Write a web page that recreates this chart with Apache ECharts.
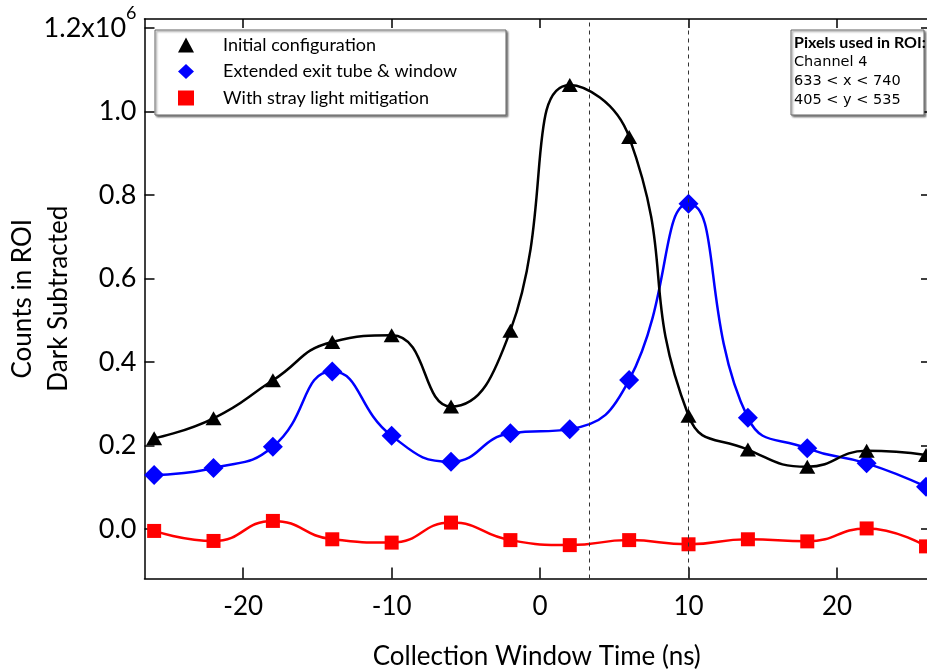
<!DOCTYPE html>
<html>
<head>
<meta charset="utf-8">
<script src="https://cdn.jsdelivr.net/npm/echarts@6/dist/echarts.min.js"></script>
<style>html,body{margin:0;padding:0;background:#fff;}#chart{width:927px;height:670px;}</style>
</head>
<body>
<div id="chart"></div>
<script>
const times = [-26, -22, -18, -14, -10, -6, -2, 2, 6, 10, 14, 18, 22, 26];
const initialCfg = [0.217, 0.265, 0.356, 0.448, 0.464, 0.293, 0.475, 1.064, 0.939, 0.271, 0.190, 0.149, 0.187, 0.177];
const extendedTube = [0.129, 0.146, 0.197, 0.377, 0.223, 0.161, 0.229, 0.239, 0.357, 0.779, 0.266, 0.193, 0.157, 0.101];
const strayMitigation = [-0.005, -0.029, 0.019, -0.025, -0.033, 0.015, -0.027, -0.039, -0.027, -0.037, -0.025, -0.030, 0.001, -0.042];
const seriesNames = ['Initial configuration', 'Extended exit tube & window', 'With stray light mitigation'];
const xTicks = [-20, -10, 0, 10, 20];
const yTicks = [0, 0.2, 0.4, 0.6, 0.8, 1.0, 1.2];
const markerTimes = [3.33, 10];
const roiLines = ['Pixels used in ROI:', 'Channel 4', '633 < x < 740', '405 < y < 535'];

const FONT = 'Lato';
const pair = (ys) => times.map((t, i) => [t, ys[i]]);

const chart = echarts.init(document.getElementById('chart'), null, {renderer: 'canvas'});

const xMin = -26.65, xMax = 26.2, yMin = -0.119, yMax = 1.222;

const tickCommon = {show: true, inside: true, length: 10, lineStyle: {color: '#000', width: 1.5}};
const lineCommon = {show: true, onZero: false, lineStyle: {color: '#000', width: 1.5}};

const option = {
  backgroundColor: '#fff',
  animation: false,
  grid: {left: 144.5, top: 19, right: -2, bottom: 91.5, containLabel: false, outerBoundsMode: 'none'},
  xAxis: [{
    type: 'value', min: xMin, max: xMax, position: 'bottom',
    name: 'Collection Window Time (ns)', nameLocation: 'middle', nameGap: 65, nameMoveOverlap: false,
    nameTextStyle: {fontFamily: FONT, fontSize: 26, color: '#000'},
    axisLine: lineCommon,
    axisTick: Object.assign({}, tickCommon, {customValues: xTicks, length: 11}),
    axisLabel: {customValues: xTicks, fontFamily: FONT, fontSize: 26, color: '#000', margin: 15},
    splitLine: {show: false}
  }, {
    type: 'value', min: xMin, max: xMax, position: 'top',
    axisLine: lineCommon,
    axisTick: Object.assign({}, tickCommon, {customValues: xTicks, length: 9}),
    axisLabel: {show: false},
    splitLine: {show: false}
  }],
  yAxis: [{
    type: 'value', min: yMin, max: yMax, position: 'left',
    name: 'Counts in ROI\nDark Subtracted', nameLocation: 'middle', nameRotate: 90, nameGap: 68, nameMoveOverlap: false,
    nameTextStyle: {fontFamily: FONT, fontSize: 26, lineHeight: 36, color: '#000'},
    axisLine: lineCommon,
    axisTick: Object.assign({}, tickCommon, {customValues: yTicks}),
    axisLabel: {
      customValues: yTicks, fontFamily: FONT, fontSize: 27, color: '#000', margin: 8,
      formatter: function (v) {
        if (Math.abs(v - 1.2) < 1e-9) return '{m|1.2x10}{e|6}';
        return v.toFixed(1);
      },
      rich: {
        m: {fontFamily: FONT, fontSize: 27, lineHeight: 48, color: '#000', verticalAlign: 'middle'},
        e: {fontFamily: FONT, fontSize: 18, lineHeight: 18, color: '#000', verticalAlign: 'top'}
      }
    },
    splitLine: {show: false}
  }, {
    type: 'value', min: yMin, max: yMax, position: 'right',
    axisLine: lineCommon,
    axisTick: Object.assign({}, tickCommon, {customValues: yTicks, length: 8}),
    axisLabel: {show: false},
    splitLine: {show: false}
  }],
  legend: {
    orient: 'vertical', left: 178, top: 35, padding: 0, itemGap: 6.5,
    itemWidth: 16, itemHeight: 15, z: 10,
    textStyle: {fontFamily: FONT, fontSize: 18, color: '#000', lineHeight: 20, padding: [0, 0, 0, 24]},
    data: [
      {name: seriesNames[0], icon: 'triangle'},
      {name: seriesNames[1], icon: 'diamond'},
      {name: seriesNames[2], icon: 'rect'}
    ]
  },
  graphic: [
    {type: 'rect', z: 5, shape: {x: 155, y: 30, width: 351, height: 85},
     style: {fill: '#fff', stroke: '#666', lineWidth: 1, shadowBlur: 2, shadowOffsetX: 1.5, shadowOffsetY: 1.5, shadowColor: 'rgba(0,0,0,0.45)'}},
    {type: 'rect', z: 5, shape: {x: 791, y: 30, width: 133, height: 85},
     style: {fill: '#fff', stroke: '#666', lineWidth: 1, shadowBlur: 2, shadowOffsetX: 1.5, shadowOffsetY: 1.5, shadowColor: 'rgba(0,0,0,0.45)'}}
  ].concat(roiLines.map((t, i) => ({
    type: 'text', z: 6, x: 794, y: 42.7 + i * 19.3,
    style: {text: t, fontFamily: i === 0 ? FONT : 'DejaVu Sans', fontSize: i === 0 ? 16 : 14.5,
            fontWeight: i === 0 ? 'bold' : 'normal', fill: '#000', verticalAlign: 'middle', align: 'left'}
  }))),
  series: [
    {
      name: seriesNames[2], type: 'line', data: pair(strayMitigation), smooth: 0.5,
      symbol: 'rect', symbolSize: 14, itemStyle: {color: '#ff0000'},
      lineStyle: {color: '#ff0000', width: 2.5}, z: 3
    },
    {
      name: seriesNames[1], type: 'line', data: pair(extendedTube), smooth: 0.5,
      symbol: 'diamond', symbolSize: 20, itemStyle: {color: '#0000ff'},
      lineStyle: {color: '#0000ff', width: 2.5}, z: 4
    },
    {
      name: seriesNames[0], type: 'line', data: pair(initialCfg), smooth: 0.5,
      symbol: 'triangle', symbolSize: [16, 14], itemStyle: {color: '#000'},
      lineStyle: {color: '#000', width: 2.5}, z: 5,
      markLine: {
        silent: true, symbol: 'none', label: {show: false},
        lineStyle: {color: '#333', width: 1, type: [4, 4]},
        data: markerTimes.map(t => ({xAxis: t}))
      }
    }
  ]
};
chart.setOption(option);
</script>
</body>
</html>
